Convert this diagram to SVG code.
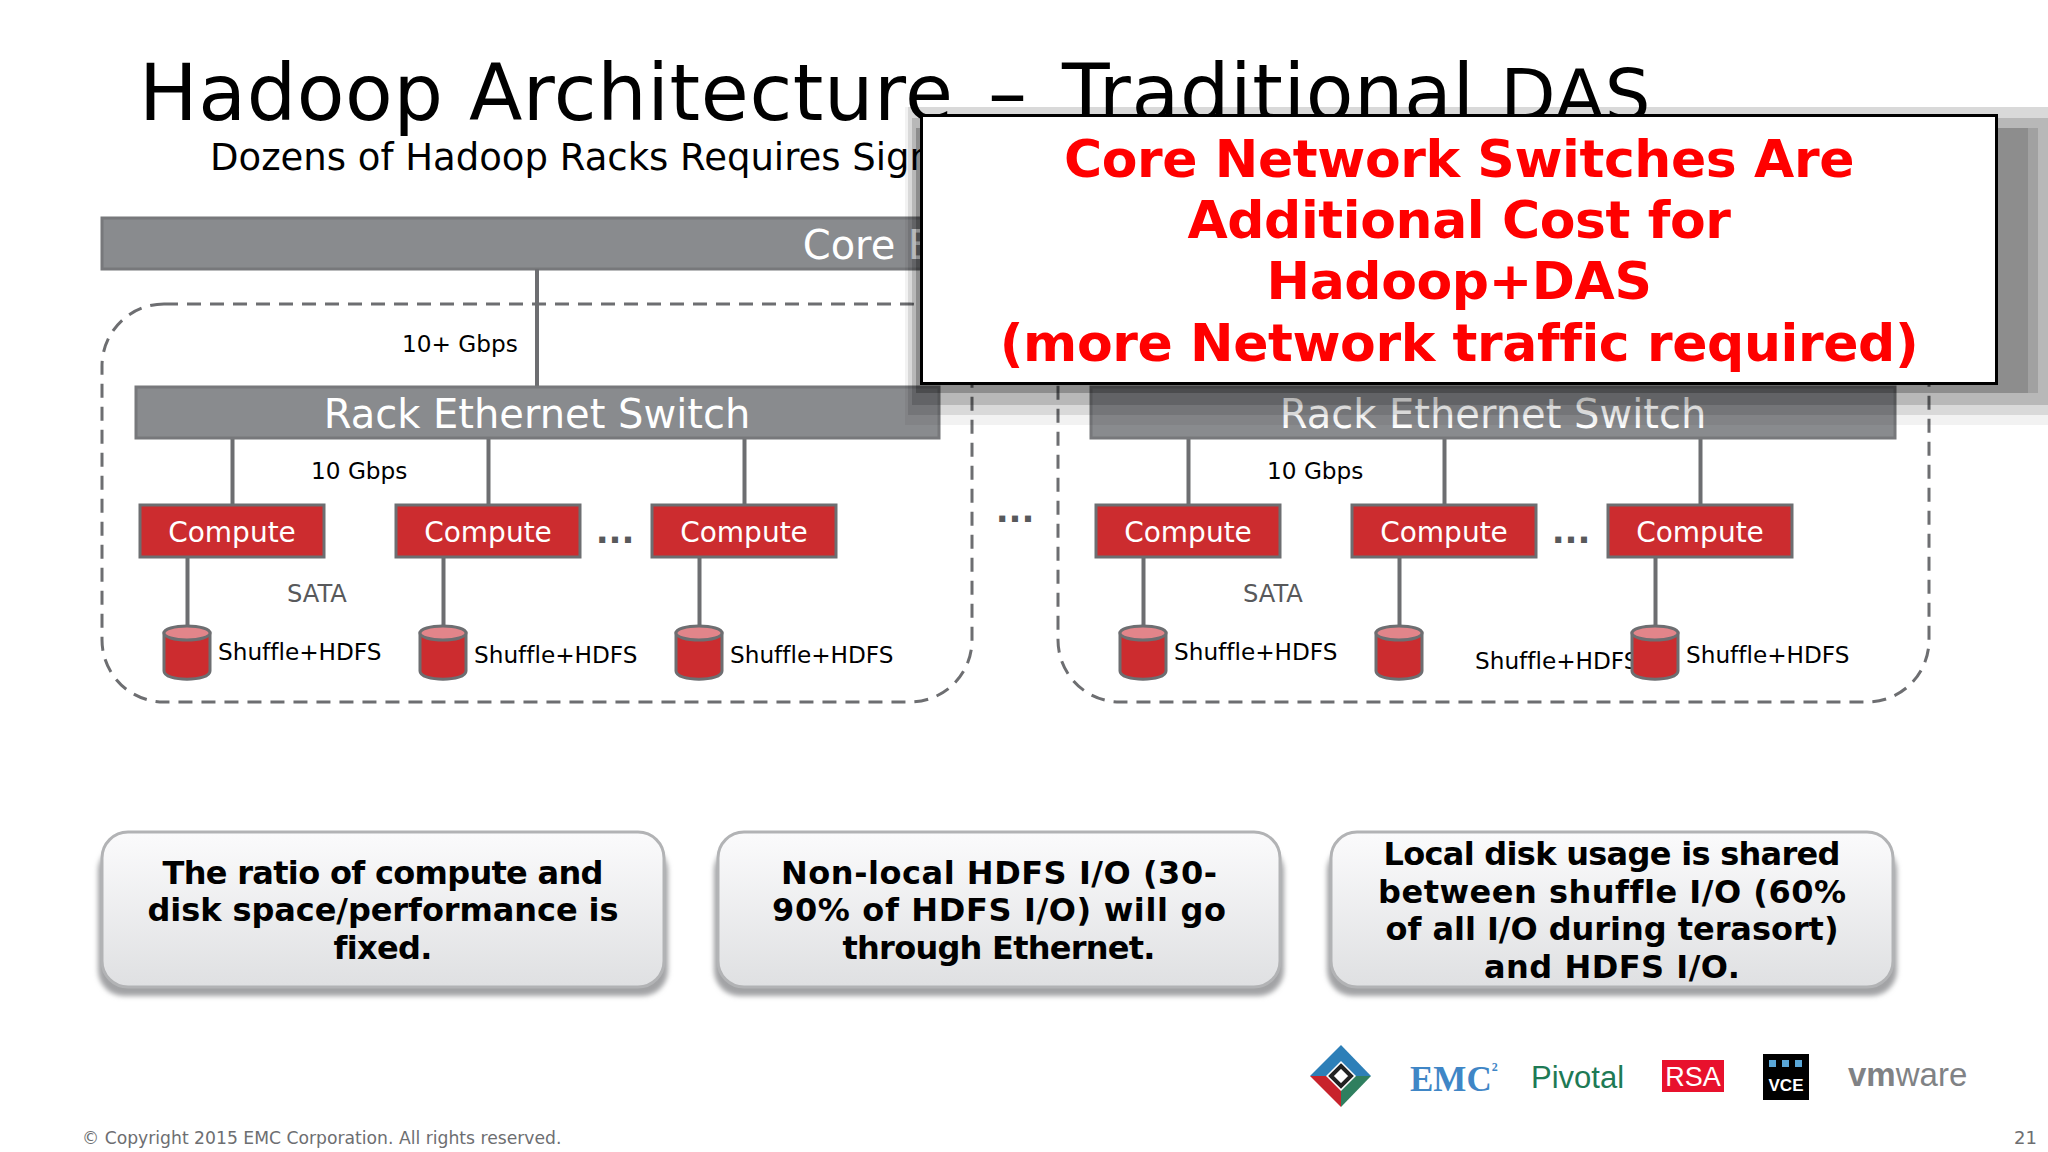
<svg xmlns="http://www.w3.org/2000/svg" width="2048" height="1152" viewBox="0 0 2048 1152">
<defs>
<style>
text{font-family:"DejaVu Sans",Verdana,sans-serif;font-variant-ligatures:none}
.bar{fill:#898b8e;stroke:#77787b;stroke-width:3}
.barT{fill:#fff;font-size:40px;text-anchor:middle}
.cmp{fill:#cc2c2f;stroke:#6d6e71;stroke-width:3}
.cmpT{fill:#fff;font-size:28px;text-anchor:middle}
.link{stroke:#6d6e71;stroke-width:4;fill:none}
.rack{fill:none;stroke:#6d6e71;stroke-width:3;stroke-dasharray:14 9}
.lbl{fill:#000;font-size:23.2px}
.sata{fill:#58595b;font-size:24.2px}
.dots{fill:#58595b;font-size:34px;font-weight:bold;text-anchor:middle}
.body{fill:#cc2c2f;stroke:#6d6e71;stroke-width:3}
.lid{fill:#e2858a;stroke:#6d6e71;stroke-width:3}
.call{fill:url(#cg);stroke:#b2b3b5;stroke-width:3}
.callS{fill:#a2a3a5;filter:url(#soft)}
.callT{fill:#000;font-size:32px;font-weight:bold;text-anchor:middle}
.pop{fill:#ff0000;font-size:52px;font-weight:bold;text-anchor:middle;letter-spacing:-.4px}
</style>
<linearGradient id="cg" x1="0" y1="0" x2="0" y2="1"><stop offset="0" stop-color="#fbfbfc"/><stop offset="1" stop-color="#dfe0e2"/></linearGradient>
<filter id="soft" x="-5%" y="-10%" width="110%" height="120%"><feGaussianBlur stdDeviation="2.5"/></filter>
<symbol id="disk" overflow="visible"><path class="body" d="M-23 8V46C-23 57 23 57 23 46V8Z"/><ellipse class="lid" cx="0" cy="8" rx="23" ry="7"/></symbol>
</defs>
<rect width="2048" height="1152" fill="#fff"/>
<text x="139" y="120" font-size="78" fill="#000" id="title" letter-spacing=".6">Hadoop Architecture <tspan dx="9">–</tspan> <tspan dx="9">Traditional</tspan> <tspan font-size="72">DAS</tspan></text>
<text x="210" y="170" font-size="37" fill="#000" id="subtitle">Dozens of Hadoop Racks Requires Sign</text>

<g id="core-switch"><rect class="bar" x="102" y="218" width="1827" height="51"/><text class="barT" x="868" y="259">Core E</text></g>
<g id="rack-1"><rect class="rack" x="102" y="304" width="870" height="398" rx="62"/></g>
<g id="rack-2"><rect class="rack" x="1058" y="304" width="871" height="398" rx="62"/></g>

<g id="connectors">
<path class="link" d="M537 269V387M232.500 438V505M488.500 438V505M744.500 438V505M1188.500 438V505M1444.500 438V505M1700.500 438V505M187.500 557V626M443.500 557V626M699.500 557V626M1143.500 557V626M1399.500 557V626M1655.500 557V626"/>
</g>

<g id="rack-switch-1"><rect class="bar" x="136" y="387" width="803" height="51"/><text class="barT" x="537" y="428">Rack Ethernet Switch</text></g>
<g id="rack-switch-2"><rect class="bar" x="1091" y="387" width="804" height="51"/><text class="barT" x="1493" y="428">Rack Ethernet Switch</text></g>

<g id="c1"><rect class="cmp" x="140" y="505" width="184" height="52"/><text class="cmpT" x="232" y="542">Compute</text></g>
<g id="c2"><rect class="cmp" x="396" y="505" width="184" height="52"/><text class="cmpT" x="488" y="542">Compute</text></g>
<g id="c3"><rect class="cmp" x="652" y="505" width="184" height="52"/><text class="cmpT" x="744" y="542">Compute</text></g>
<g id="c4"><rect class="cmp" x="1096" y="505" width="184" height="52"/><text class="cmpT" x="1188" y="542">Compute</text></g>
<g id="c5"><rect class="cmp" x="1352" y="505" width="184" height="52"/><text class="cmpT" x="1444" y="542">Compute</text></g>
<g id="c6"><rect class="cmp" x="1608" y="505" width="184" height="52"/><text class="cmpT" x="1700" y="542">Compute</text></g>

<g id="d1"><use href="#disk" x="187" y="625"/><text class="lbl" x="218" y="660">Shuffle+HDFS</text></g>
<g id="d2"><use href="#disk" x="443" y="625"/><text class="lbl" x="474" y="663">Shuffle+HDFS</text></g>
<g id="d3"><use href="#disk" x="699" y="625"/><text class="lbl" x="730" y="663">Shuffle+HDFS</text></g>
<g id="d4"><use href="#disk" x="1143" y="625"/><text class="lbl" x="1174" y="660">Shuffle+HDFS</text></g>
<g id="d5"><text class="lbl" x="1475" y="669">Shuffle+HDFS</text><use href="#disk" x="1399" y="625"/></g>
<g id="d6"><use href="#disk" x="1655" y="625"/><text class="lbl" x="1686" y="663">Shuffle+HDFS</text></g>

<g id="labels">
<text class="lbl" x="402" y="352">10+ Gbps</text>
<text class="lbl" x="311" y="479">10 Gbps</text>
<text class="lbl" x="1267" y="479">10 Gbps</text>
<text class="sata" x="287" y="602">SATA</text>
<text class="sata" x="1243" y="602">SATA</text>
<text class="dots" x="615" y="543">...</text>
<text class="dots" x="1571" y="543">...</text>
<text class="dots" x="1015" y="522">...</text>
</g>

<g id="popup">
<rect x="905" y="107" width="1143" height="318" fill="#000" opacity=".05"/>
<rect x="908" y="107" width="1140" height="308" fill="#000" opacity=".1"/>
<rect x="912" y="118" width="1136" height="287" fill="#000" opacity=".15"/>
<rect x="916" y="128" width="1122" height="265" fill="#000" opacity=".12"/>
<rect x="916" y="128" width="1112" height="265" fill="#000" opacity=".12"/>
<rect x="921.500" y="115.500" width="1075" height="268" fill="#fff" stroke="#000" stroke-width="3"/>
<text class="pop" x="1459" y="176.500">Core Network Switches Are</text>
<text class="pop" x="1459" y="238">Additional Cost for</text>
<text class="pop" x="1459" y="299">Hadoop+DAS</text>
<text class="pop" x="1459" y="361">(more Network traffic required)</text>
</g>

<g id="callout-1"><rect class="callS" x="98" y="845" width="570" height="151" rx="26"/><rect class="call" x="102" y="832" width="562" height="155" rx="26"/><text class="callT" x="383" y="884" textLength="441">The ratio of compute and</text><text class="callT" x="383" y="921" textLength="471">disk space/performance is</text><text class="callT" x="383" y="959" textLength="99">fixed.</text></g>
<g id="callout-2"><rect class="callS" x="714" y="845" width="570" height="151" rx="26"/><rect class="call" x="718" y="832" width="562" height="155" rx="26"/><text class="callT" x="999" y="884" textLength="436">Non-local HDFS I/O (30-</text><text class="callT" x="999" y="921" textLength="454">90% of HDFS I/O) will go</text><text class="callT" x="999" y="959" textLength="313">through Ethernet.</text></g>
<g id="callout-3"><rect class="callS" x="1327" y="845" width="570" height="151" rx="26"/><rect class="call" x="1331" y="832" width="562" height="155" rx="26"/><text class="callT" x="1612" y="865" textLength="457">Local disk usage is shared</text><text class="callT" x="1612" y="903" textLength="468">between shuffle I/O (60%</text><text class="callT" x="1612" y="940" textLength="453">of all I/O during terasort)</text><text class="callT" x="1612" y="978" textLength="256">and HDFS I/O.</text></g>

<g id="logos">
<g id="logo-diamond">
<path d="M1341 1045L1371 1076L1356 1076L1341 1061Z" fill="#2d7fb8"/>
<path d="M1341 1045L1310 1076L1326 1076L1341 1061Z" fill="#2d7fb8"/>
<path d="M1310 1076L1341 1107L1341 1091L1326 1076Z" fill="#c8232c"/>
<path d="M1371 1076L1341 1107L1341 1091L1356 1076Z" fill="#2f7f5f"/>
<path d="M1341 1066L1351 1076L1341 1086L1331 1076Z" fill="none" stroke="#222" stroke-width="4"/>
</g>
<text x="1410" y="1091" font-size="35" font-weight="bold" fill="#3f86c6" style="font-family:'Liberation Serif',serif">EMC<tspan font-size="12" dy="-20">2</tspan></text>
<text x="1531" y="1088" font-size="31" fill="#1e7a55" style="font-family:'Liberation Sans',sans-serif">Pivotal</text>
<g><rect x="1662" y="1060" width="62" height="32" fill="#e8112d"/><text x="1693" y="1086" font-size="27" fill="#fff" text-anchor="middle" style="font-family:'Liberation Sans',sans-serif">RSA</text></g>
<g><rect x="1763" y="1054" width="46" height="46" fill="#000"/><rect x="1769" y="1060" width="7" height="7" fill="#5aa7d8"/><rect x="1782" y="1060" width="7" height="7" fill="#5aa7d8"/><rect x="1795" y="1060" width="7" height="7" fill="#5aa7d8"/><text x="1786" y="1091" font-size="17" font-weight="bold" fill="#fff" text-anchor="middle" style="font-family:'Liberation Sans',sans-serif">VCE</text></g>
<text x="1848" y="1086" font-size="33" fill="#808285" style="font-family:'Liberation Sans',sans-serif"><tspan font-weight="bold">vm</tspan>ware</text>
</g>

<text x="82" y="1144" font-size="17.2" fill="#6d6e71" id="copyright">© Copyright 2015 EMC Corporation. All rights reserved.</text>
<text x="2014" y="1144" font-size="18" fill="#6d6e71" id="page">21</text>
</svg>
